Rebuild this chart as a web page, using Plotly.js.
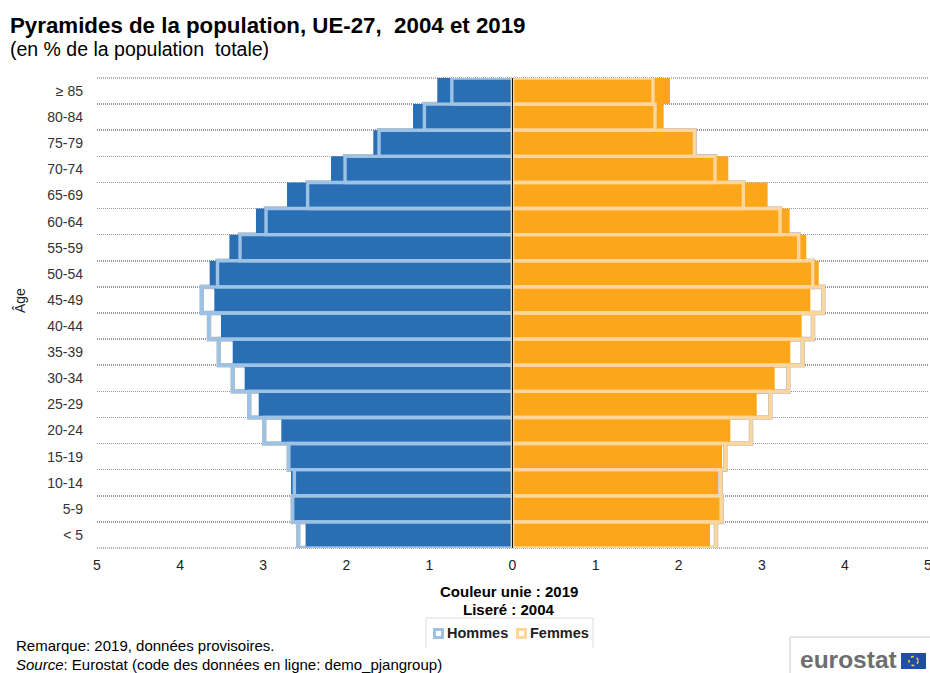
<!DOCTYPE html>
<html><head><meta charset="utf-8">
<script src="https://cdn.plot.ly/plotly-3.0.1.min.js"></script>
<style>html,body{margin:0;padding:0;background:#fff}</style></head>
<body><div id="chart" style="width:930px;height:673px"></div>
<script>
const ages = ['< 5','5-9','10-14','15-19','20-24','25-29','30-34','35-39','40-44','45-49','50-54','55-59','60-64','65-69','70-74','75-79','80-84','≥ 85'];
const men2019 = [2.49,2.63,2.665,2.674,2.782,3.054,3.223,3.367,3.508,3.588,3.644,3.407,3.087,2.713,2.184,1.675,1.197,0.905];
const men2004 = [2.578,2.645,2.625,2.693,2.987,3.167,3.367,3.535,3.652,3.74,3.55,3.279,2.966,2.465,2.015,1.606,1.06,0.73];
const women2019 = [2.377,2.489,2.473,2.521,2.621,2.939,3.155,3.343,3.48,3.584,3.685,3.535,3.335,3.07,2.597,2.168,1.819,1.895];
const women2004 = [2.449,2.517,2.505,2.561,2.87,3.102,3.319,3.492,3.616,3.74,3.613,3.444,3.219,2.778,2.437,2.192,1.715,1.691];
const tickValues = [-5,-4,-3,-2,-1,0,1,2,3,4,5];
const tickLabels = ['5','4','3','2','1','0','1','2','3','4','5'];
const neg = a => a.map(v => -v);
const font = 'Liberation Sans, Arial, sans-serif';
const blue='#2a6eb4', orange='#fca61a', lblue='#9cc2e6', lorange='#fdd69b', edge='#bcbcbc', clear='rgba(0,0,0,0)';
const gridColor='#999999', gridDash='1px,1px', gridWidth=1.5;
const bar = (x,fill,lineColor,lineWidth) => ({type:'bar',orientation:'h',y:ages,x:x,width:1,showlegend:false,hoverinfo:'skip',marker:{color:fill,line:{color:lineColor,width:lineWidth}}});
const traces = [
 bar(neg(men2004),clear,edge,4.6),
 bar(women2004,clear,edge,4.6),
 bar(neg(men2019),blue,blue,0),
 bar(women2019,orange,orange,0),
 Object.assign(bar(neg(men2004),clear,lblue,3.4),{name:'Hommes'}),
 Object.assign(bar(women2004,clear,lorange,3.4),{name:'Femmes'})
];
const L=97,T=78,W=831,H=470;
const px = x => (x-L)/W, py = y => 1-(y-T)/H;
const anno = (x,y,text,size,extra) => Object.assign({xref:'paper',yref:'paper',x:px(x),y:py(y),xanchor:'left',yanchor:'middle',showarrow:false,text:text,font:{family:font,size:size,color:'#000'}},extra||{});
const line = (x0,y0,x1,y1,c) => ({type:'line',xref:'paper',yref:'paper',x0:px(x0),x1:px(x1),y0:py(y0),y1:py(y1),line:{color:c,width:1}});
const swatch = (x,c) => ({type:'rect',xref:'paper',yref:'paper',x0:px(x),x1:px(x+8),y0:py(629.5),y1:py(637.5),fillcolor:'#fff',line:{color:c,width:3}});
const edgeGrid = y => ({type:'line',layer:'below',xref:'paper',yref:'paper',x0:0,x1:1,y0:y,y1:y,line:{color:gridColor,width:gridWidth,dash:gridDash}});
const layout = {
 width:930,height:673,paper_bgcolor:'#fff',plot_bgcolor:'#fff',
 margin:{l:L,r:2,t:T,b:125},
 barmode:'overlay',showlegend:false,
 xaxis:{range:[-5,5],tickmode:'array',tickvals:tickValues,ticktext:tickLabels,showgrid:false,zeroline:false,ticks:'',ticklabelstandoff:7,ticklabeloverflow:'allow',tickfont:{family:font,size:14,color:'#222'},fixedrange:true,automargin:false},
 yaxis:{type:'category',categoryorder:'array',categoryarray:ages,tickson:'boundaries',showgrid:true,gridcolor:gridColor,griddash:gridDash,gridwidth:gridWidth,ticks:'',tickfont:{family:font,size:14,color:'#333'},ticklabelstandoff:13,zeroline:false,showline:false,automargin:false},
 shapes:[
  edgeGrid(0),edgeGrid(1),
  {type:'line',xref:'x',yref:'paper',x0:0,x1:0,y0:0,y1:1,line:{color:'#111',width:1}},
  line(426,618,426,648,'#ddd'),line(593,618,593,648,'#ddd'),line(426,618,593,618,'#ddd'),
  swatch(434.5,lblue),swatch(517.5,lorange),
  line(790,637,790,673,'#ccc'),line(790,637,930,637,'#ccc'),
  {type:'rect',xref:'paper',yref:'paper',x0:px(901),x1:px(926),y0:py(669),y1:py(653),fillcolor:'#1f4fa3',line:{width:0}},
  {type:'circle',xref:'paper',yref:'paper',x0:px(909),x1:px(918),y0:py(665.5),y1:py(656.5),fillcolor:clear,line:{color:'#f5d90a',width:1.5,dash:'dot'}}
 ],
 annotations:[
  anno(8,25,'<b>Pyramides de la population, UE-27,\u00a0 2004 et 2019</b>',22.3),
  anno(8,48.5,'(en % de la population\u00a0 totale)',19.5),
  anno(20,301,'Âge',14,{xanchor:'center',textangle:-90,font:{family:font,size:14,color:'#222'}}),
  anno(509,591,'<b>Couleur unie : 2019</b>',15,{xanchor:'center'}),
  anno(509,609,'<b>Liseré : 2004</b>',15,{xanchor:'center'}),
  anno(445,633,'<b>Hommes</b>',14.5,{font:{family:font,size:14.5,color:'#222'}}),
  anno(528,633,'<b>Femmes</b>',14.5,{font:{family:font,size:14.5,color:'#222'}}),
  anno(14,645,'Remarque: 2019, données provisoires.',15),
  anno(14,664,'<i>Source</i>: Eurostat (code des données en ligne: demo_pjangroup)',15),
  anno(798,659.5,'<b>eurostat</b>',24.5,{font:{family:font,size:24.5,color:'#6d6e71'}})
 ]
};
Plotly.newPlot('chart',traces,layout,{displayModeBar:false,staticPlot:true});
</script></body></html>
